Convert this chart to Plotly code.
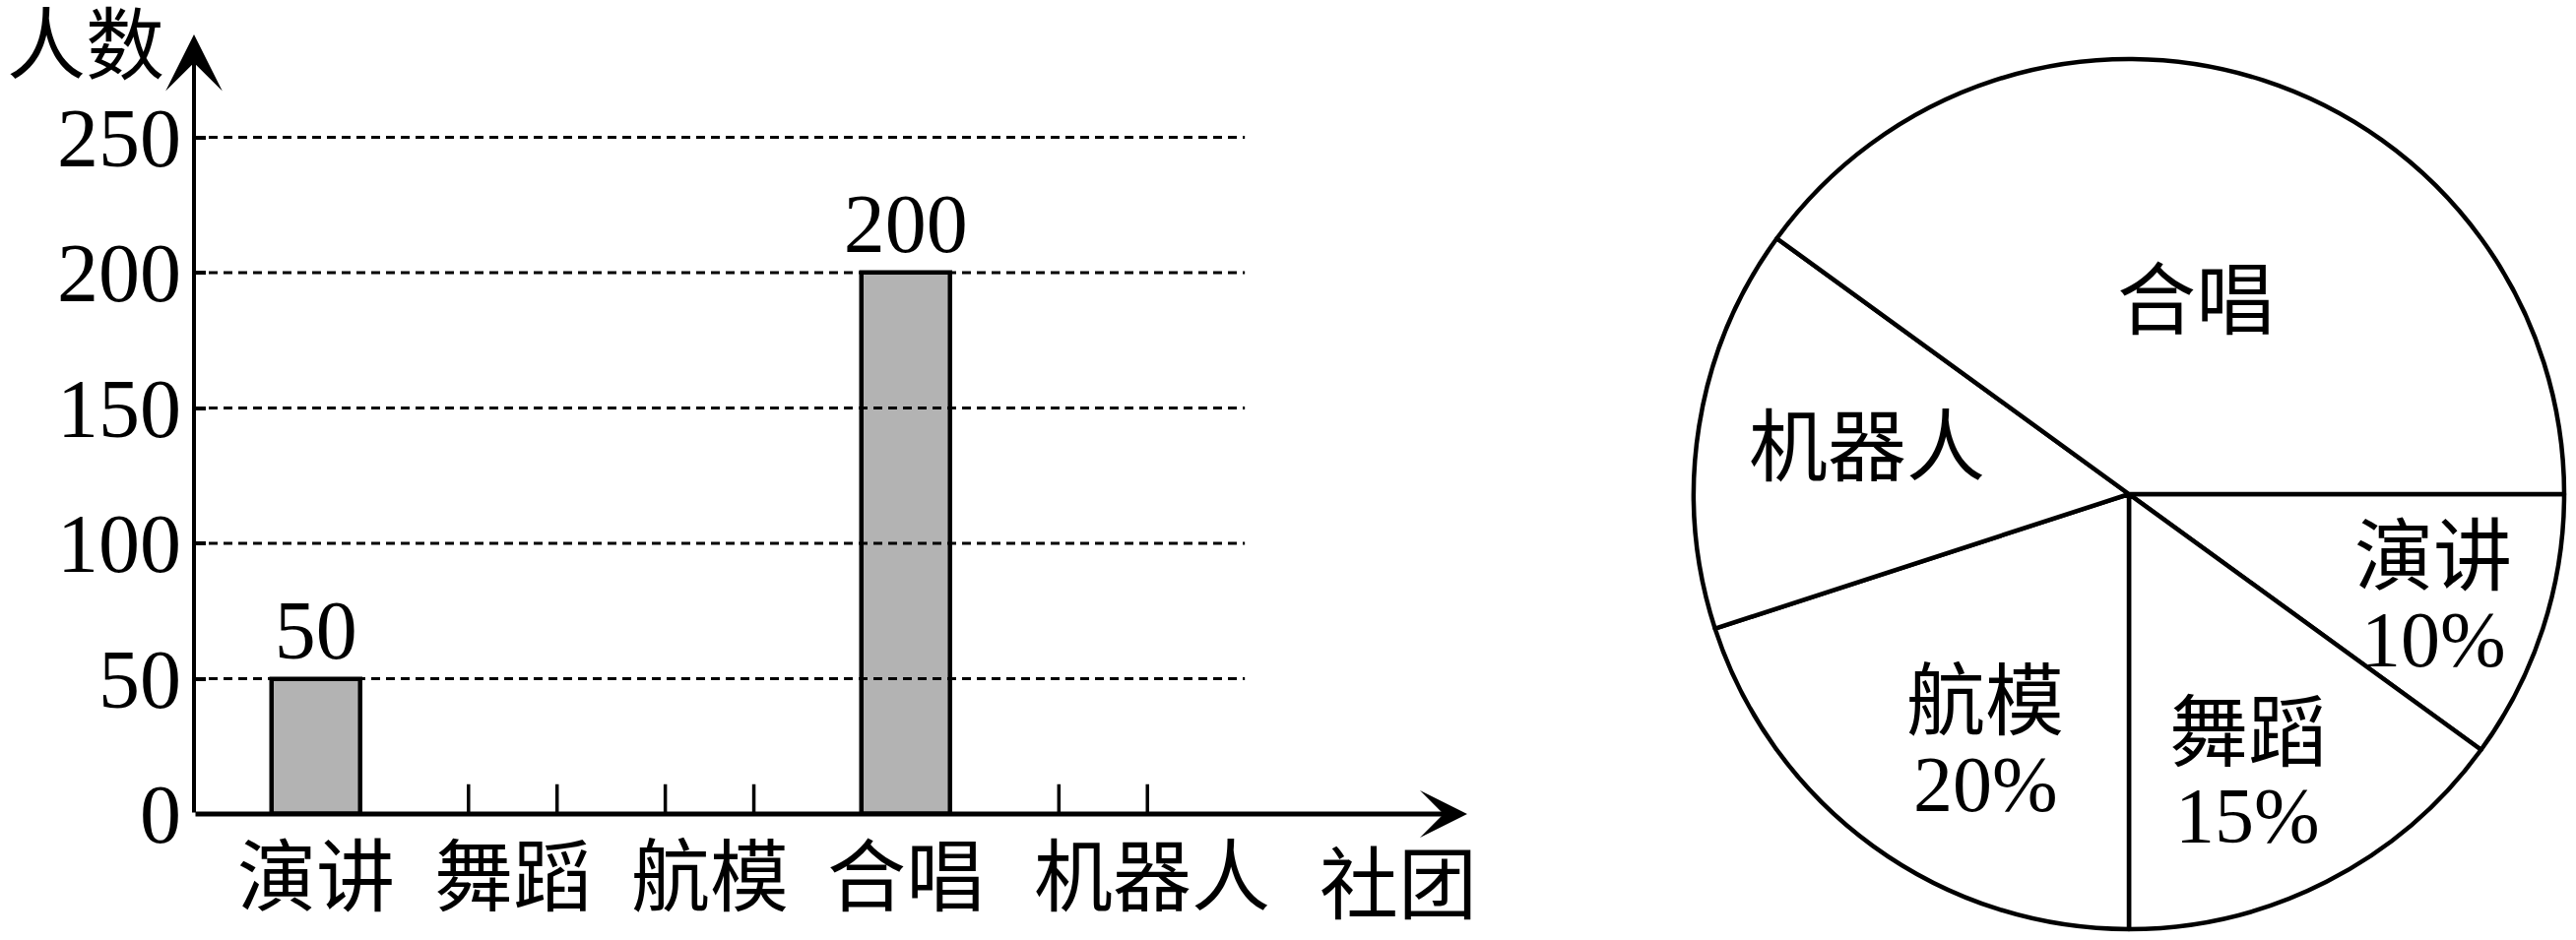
import math
import plotly.graph_objects as go

# ---------------- data ----------------
categories = ["演讲", "舞蹈", "航模", "合唱", "机器人"]
bar_values = [50, None, None, 200, None]
stub_values = [None, 11, 11, None, 11]      # unfinished bars: only short side edges drawn
y_ticks = [0, 50, 100, 150, 200, 250]
y_title = "人数"
x_title = "社团"

pie_labels = ["演讲", "舞蹈", "航模", "机器人", "合唱"]
pie_percent = [10, 15, 20, 15, 40]
pie_show_percent = [True, True, True, False, False]

# ---------------- style ----------------
FONT = "Liberation Serif, Noto Sans CJK SC, serif"
FS = 80
BAR_W = 0.45
X_MIN, X_MAX = -0.62, 5.85
Y_MAX = 288
GRID_END = 4.72
W, H = 2616, 955
PIE_CX, PIE_CY, PIE_R = 2162, 502, 442
# label placement inside each slice: (fraction of radius, angle shift in degrees)
LABEL_PLACE = [(0.74, 1), (0.70, 4), (0.66, -6), (0.61, 1), (0.47, 1)]
# horizontal nudge (px) of category labels under the axis
TICK_SHIFT = [0, 0, 0, 0, 50]
TICK_Y_PX = 892

fig = go.Figure()
xs = list(range(len(categories)))

fig.add_trace(go.Bar(
    x=xs, y=bar_values, width=BAR_W,
    marker=dict(color="#b3b3b3", line=dict(color="black", width=4.5)),
    text=[str(v) if v is not None else "" for v in bar_values],
    textposition="outside", constraintext="none", cliponaxis=False,
    textfont=dict(size=FS + 4, family=FONT, color="black"),
    showlegend=False, hoverinfo="skip",
))

sx, sy = [], []
for i, v in enumerate(stub_values):
    if v is None:
        continue
    for off in (-BAR_W / 2, BAR_W / 2):
        sx += [i + off, i + off, None]
        sy += [0, v, None]
fig.add_trace(go.Scatter(x=sx, y=sy, mode="lines", line=dict(color="black", width=3.5),
                         showlegend=False, hoverinfo="skip"))

shapes = []
for t in y_ticks[1:]:
    shapes.append(dict(type="line", xref="x", yref="y", x0=X_MIN, x1=GRID_END, y0=t, y1=t,
                       line=dict(color="black", width=3, dash="9px,6px"), layer="above"))

fig.add_trace(go.Pie(
    labels=pie_labels, values=pie_percent, textinfo="none",
    sort=False, direction="clockwise", rotation=90,
    marker=dict(colors=["white"] * len(pie_labels), line=dict(color="black", width=4.5)),
    domain=dict(x=[(PIE_CX - PIE_R) / W, (PIE_CX + PIE_R) / W],
                y=[1 - (PIE_CY + PIE_R) / H, 1 - (PIE_CY - PIE_R) / H]),
    showlegend=False, hoverinfo="skip",
))

annotations = [
    dict(text=y_title, xref="paper", yref="paper", x=87 / W, y=1 - 47 / H, showarrow=False,
         font=dict(size=FS, family=FONT, color="black"), xanchor="center", yanchor="middle"),
    dict(text=x_title, xref="x", yref="paper", x=5.5, y=1 - 900 / H, showarrow=False,
         font=dict(size=FS, family=FONT, color="black"), xanchor="center", yanchor="middle"),
    # axes with arrowheads
    dict(x=X_MIN, y=Y_MAX, ax=X_MIN, ay=0, xref="x", yref="y", axref="x", ayref="y",
         showarrow=True, arrowhead=3, arrowsize=2.4, arrowwidth=4, arrowcolor="black", text=""),
    dict(x=X_MAX, y=0, ax=X_MIN, ay=0, xref="x", yref="y", axref="x", ayref="y",
         showarrow=True, arrowhead=3, arrowsize=1.6, arrowwidth=5, arrowcolor="black", text=""),
]

# category labels under the x axis
for i, (c, sh) in enumerate(zip(categories, TICK_SHIFT)):
    annotations.append(dict(text=c, xref="x", yref="paper", x=i, y=1 - TICK_Y_PX / H,
                            xshift=sh, showarrow=False, xanchor="center", yanchor="middle",
                            font=dict(size=FS, family=FONT, color="black")))

# pie slice labels, placed along each slice's bisector (clockwise from 3 o'clock)
start = 0.0
total = sum(pie_percent)
for lab, p, show, (fr, shift) in zip(pie_labels, pie_percent, pie_show_percent, LABEL_PLACE):
    span = 360.0 * p / total
    mid = math.radians(start + span / 2 + shift)
    start += span
    px = PIE_CX + fr * PIE_R * math.cos(mid)
    py = PIE_CY + fr * PIE_R * math.sin(mid)
    lines = [lab, f"{p}%"] if show else [lab]
    n = len(lines)
    for k, s in enumerate(lines):
        dy = (k - (n - 1) / 2) * 84
        annotations.append(dict(text=s, xref="paper", yref="paper", x=px / W, y=1 - (py + dy) / H,
                                showarrow=False, xanchor="center", yanchor="middle",
                                font=dict(size=FS, family=FONT, color="black")))

fig.update_layout(
    width=W, height=H, margin=dict(l=0, r=0, t=0, b=0),
    paper_bgcolor="white", plot_bgcolor="white",
    shapes=shapes, annotations=annotations, bargap=0,
    xaxis=dict(domain=[197 / W, 1490 / W], range=[X_MIN, X_MAX], tickvals=xs,
               showticklabels=False,
               showline=False, showgrid=False, zeroline=False, ticks="",
               automargin=False),
    yaxis=dict(domain=[1 - 827 / H, 1 - 35 / H], range=[0, Y_MAX], tickvals=y_ticks,
               showline=False, showgrid=False, zeroline=False, ticks="inside", ticklen=12,
               tickwidth=4, tickcolor="black", automargin=False,
               tickfont=dict(size=FS + 4, family=FONT, color="black"), ticklabelstandoff=12),
)

fig.write_html("out.html")
